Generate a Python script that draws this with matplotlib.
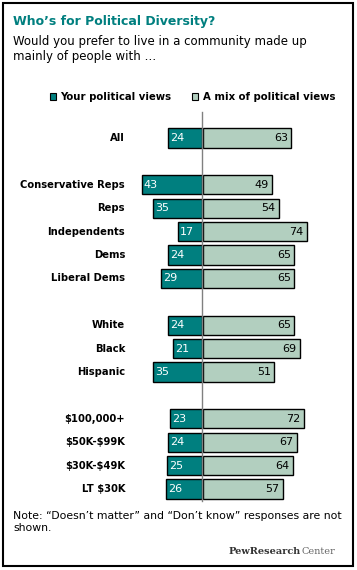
import matplotlib
matplotlib.use("Agg")
import matplotlib.pyplot as plt
from matplotlib.patches import Rectangle

plt.rcParams['text.parse_math'] = False

groups = ["All", "Conservative Reps", "Reps", "Independents", "Dems", "Liberal Dems",
          "White", "Black", "Hispanic", "$100,000+", "$50K-$99K", "$30K-$49K", "LT $30K"]
slots = [0, 2, 3, 4, 5, 6, 8, 9, 10, 12, 13, 14, 15]
own_views = [24, 43, 35, 17, 24, 29, 24, 21, 35, 23, 24, 25, 26]
mixed_views = [63, 49, 54, 74, 65, 65, 65, 69, 51, 72, 67, 64, 57]

teal = "#007f7f"
pale = "#b2cfbf"

W, H = 357, 570
fig = plt.figure(figsize=(W / 100, H / 100), dpi=100)

# one axes over the whole figure, data units: 1.4 px per point, 23.4 px per row
ppu = 1.4
x0 = 202
pitch = 23.4
y0 = 138
ax = fig.add_axes([0, 0, 1, 1])
ax.set_xlim(-x0 / ppu, (W - x0) / ppu)
ax.set_ylim((H - y0) / pitch, -y0 / pitch)
ax.axis("off")

h = 0.82
for s, g, a, b in zip(slots, groups, own_views, mixed_views):
    ax.barh(s, -a, height=h, color=teal, edgecolor="black", linewidth=1)
    ax.barh(s, b, left=0.7, height=h, color=pale, edgecolor="black", linewidth=1)
    ax.text(-a + 1.5, s, str(a), color="white", fontsize=8, ha="left", va="center")
    ax.text(b - 1.5, s, str(b), color="black", fontsize=8, ha="right", va="center")
    ax.text(-55, s, g, fontsize=7.2, fontweight="bold", ha="right", va="center")

ax.plot([0.35, 0.35], [-1.1, 15.5], color="#808080", linewidth=1)

# frame
fig.patches.append(Rectangle((3 / W, 4 / H), 350 / W, 563 / H, transform=fig.transFigure,
                             fill=False, edgecolor="black", linewidth=1.5))

fig.text(13 / W, 1 - 21 / H, "Who\u2019s for Political Diversity?", color=teal,
         fontsize=9, fontweight="bold", va="center")
fig.text(13 / W, 1 - 49 / H, "Would you prefer to live in a community made up\nmainly of people with \u2026",
         fontsize=8.5, va="center", linespacing=1.15)

# legend
fig.patches.append(Rectangle((50 / W, 1 - 100 / H), 6 / W, 7 / H, transform=fig.transFigure,
                             facecolor=teal, edgecolor="black", linewidth=0.8))
fig.text(60 / W, 1 - 96.5 / H, "Your political views", fontsize=7.3, fontweight="bold", va="center")
fig.patches.append(Rectangle((192 / W, 1 - 100 / H), 6 / W, 7 / H, transform=fig.transFigure,
                             facecolor=pale, edgecolor="black", linewidth=0.8))
fig.text(203 / W, 1 - 96.5 / H, "A mix of political views", fontsize=7.3, fontweight="bold", va="center")

fig.text(13 / W, 1 - 522 / H,
         "Note: \u201cDoesn\u2019t matter\u201d and \u201cDon\u2019t know\u201d responses are not\nshown.",
         fontsize=7.8, va="center", linespacing=1.2)

# Pew logo: "Center" right-aligned, "PewResearch" placed just left of it
c = fig.text(335 / W, 1 - 551 / H, "Center", fontsize=7, family="DejaVu Serif",
             ha="right", va="center", color="#666666")
r = fig.canvas.get_renderer()
cx = c.get_window_extent(r).x0
fig.text(cx / W, 1 - 551 / H, "PewResearch", fontsize=7, family="DejaVu Serif",
         fontweight="bold", ha="right", va="center", color="#333333")

fig.savefig("out.png", dpi=100)
